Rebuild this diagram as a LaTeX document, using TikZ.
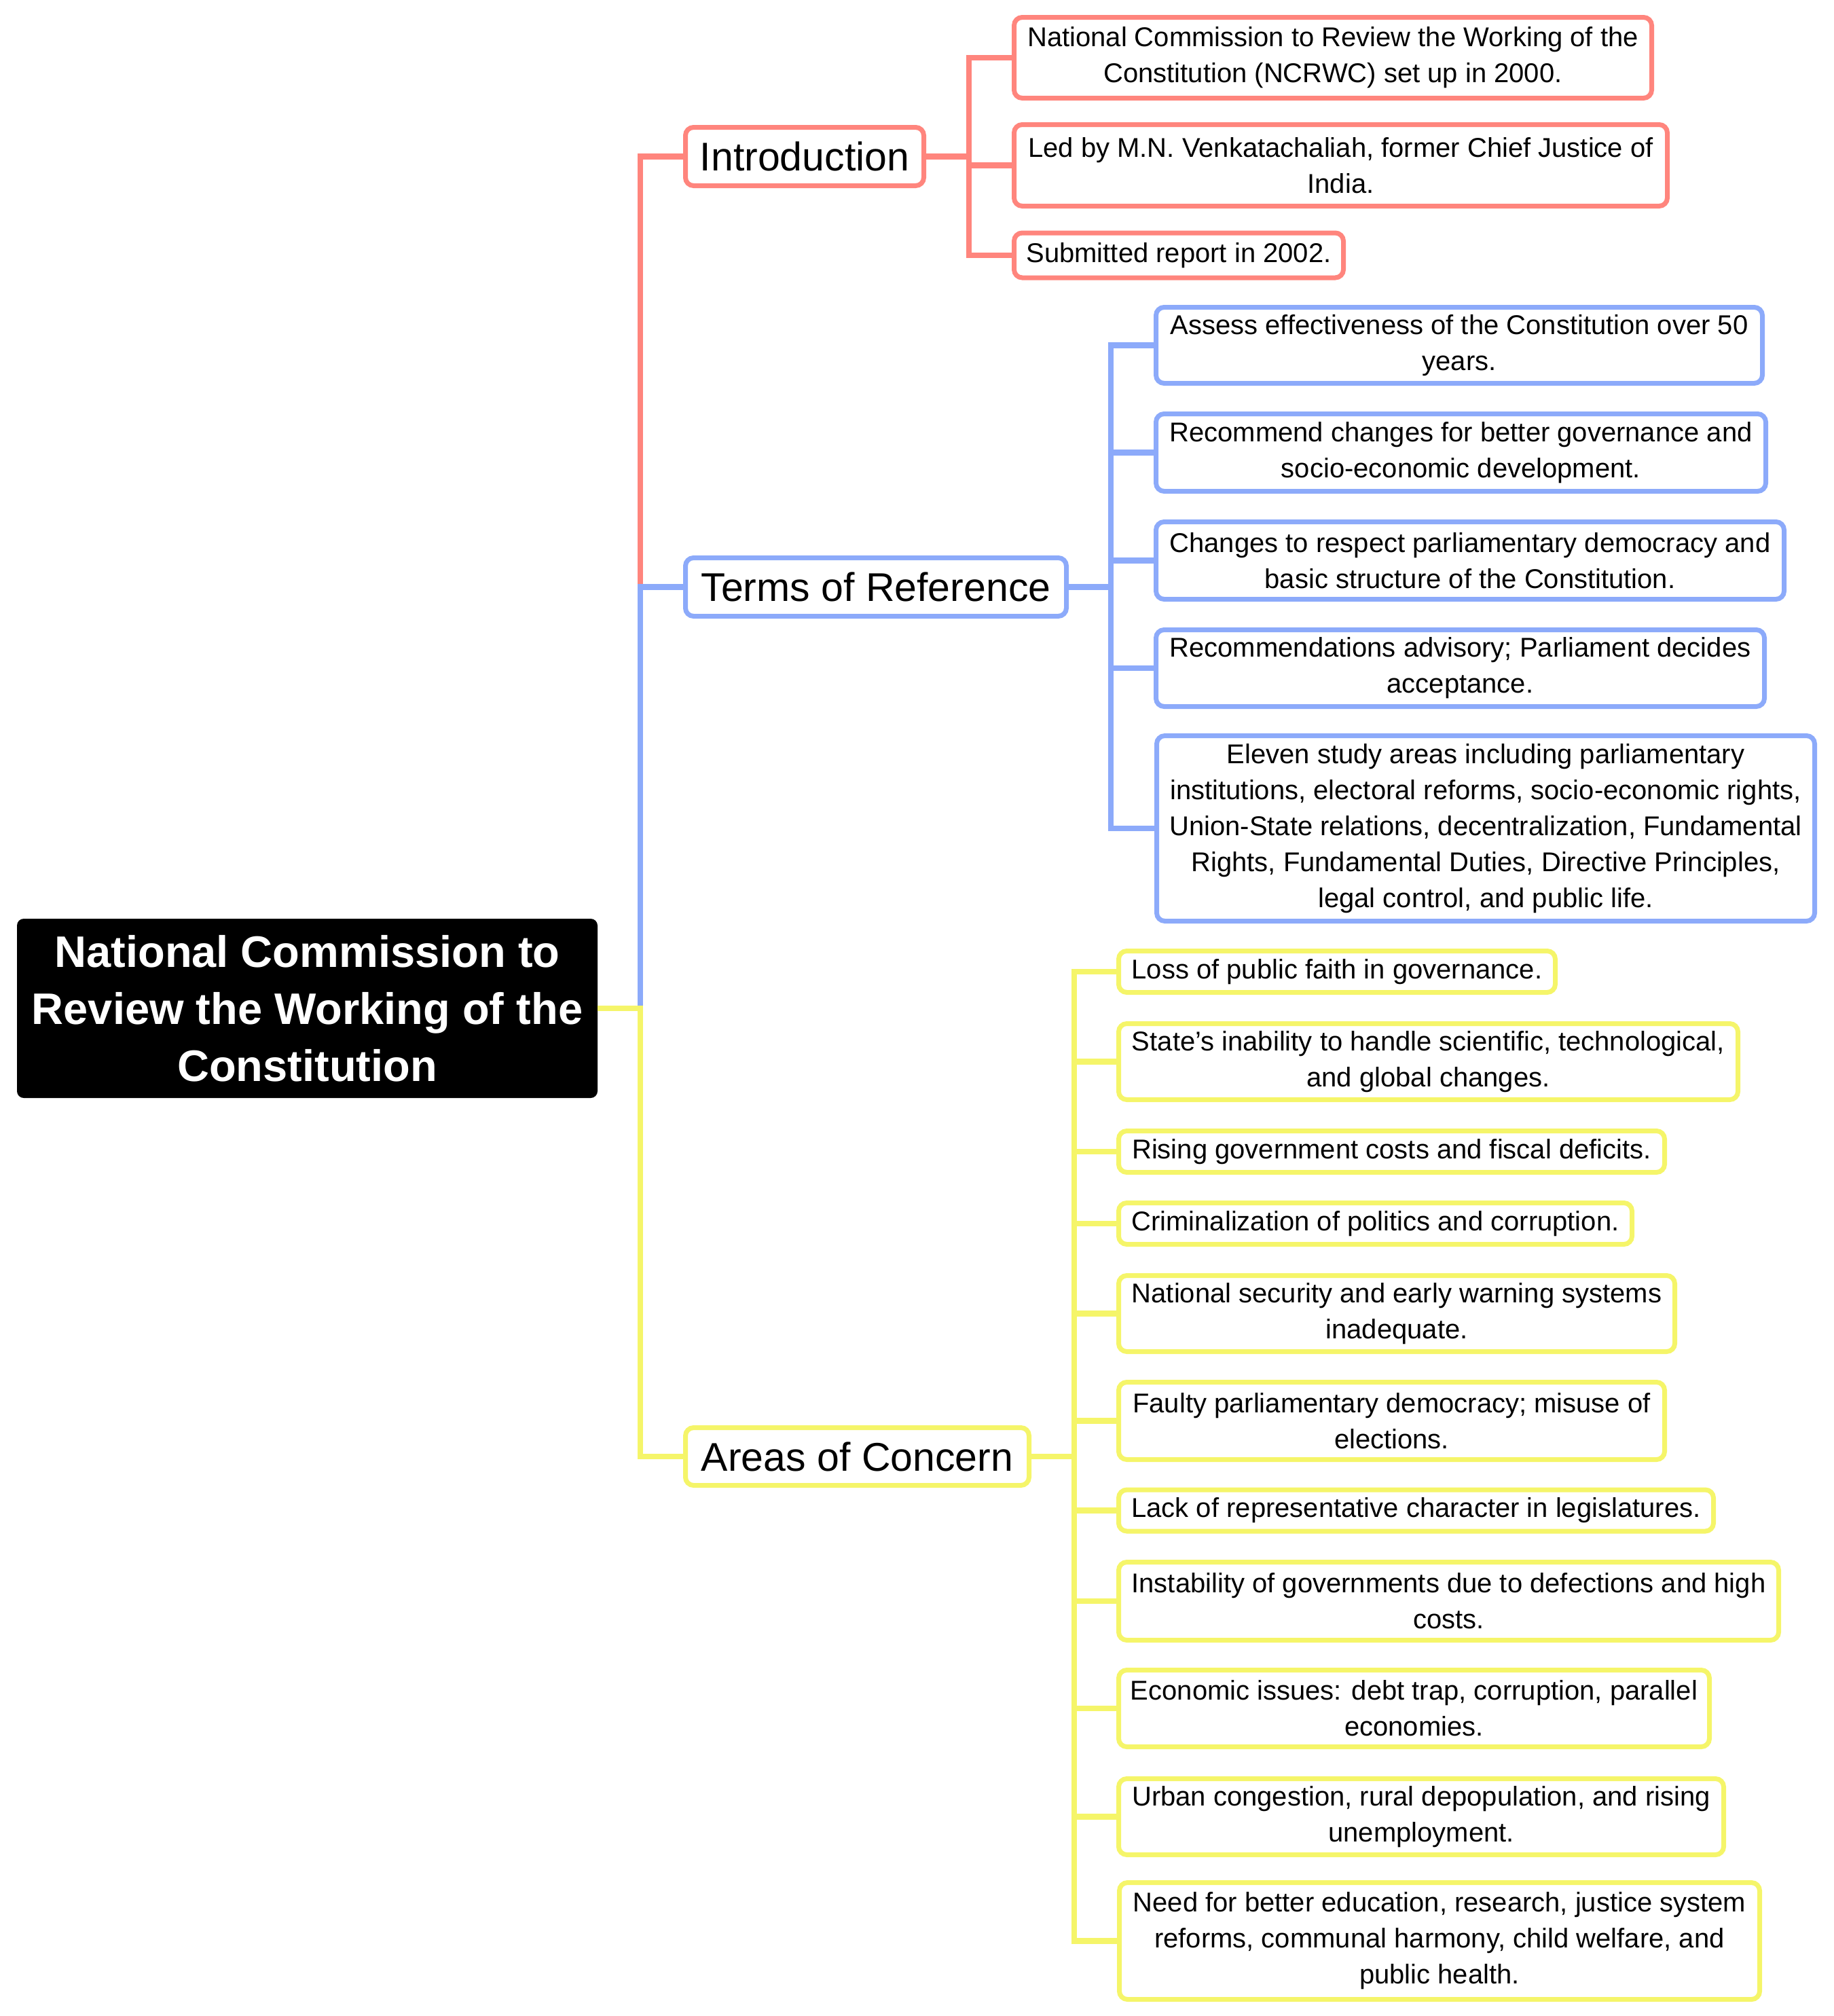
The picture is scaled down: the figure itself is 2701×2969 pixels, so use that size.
\documentclass[tikz,border=0pt]{standalone}
\usepackage{fontspec}
\setmainfont{Liberation Sans}
\definecolor{cred}{RGB}{255,133,125}
\definecolor{cblue}{RGB}{140,170,250}
\definecolor{cyel}{RGB}{245,245,105}
\tikzset{
  leafbox/.style={draw, line width=7pt, rounded corners=12pt, fill=white, align=center, inner sep=0pt, text=black, font=\fontsize{40}{53}\selectfont},
  branchbox/.style={leafbox, font=\fontsize{59}{70}\selectfont},
  rootbox/.style={fill=black, text=white, rounded corners=10pt, align=center, inner sep=0pt, font=\bfseries\fontsize{65}{84}\selectfont},
  conn/.style={line width=8.5pt},
}
\begin{document}
\begin{tikzpicture}[x=1pt,y=-1pt]
\useasboundingbox (0,0) rectangle (2701,2969);
% root
\node[rootbox, minimum width=855pt, minimum height=264pt] (root) at (452.5,1485) {National Commission to\\Review the Working of the\\Constitution};
% branches
\node[branchbox, draw=cred, minimum width=351pt, minimum height=86pt] (intro) at (1185,230.5) {Introduction};
\node[branchbox, draw=cblue, minimum width=561pt, minimum height=86pt] (tor) at (1290,864.5) {Terms of Reference};
\node[branchbox, draw=cyel, minimum width=506pt, minimum height=85pt] (aoc) at (1262.5,2145) {Areas of Concern};
% intro leaves
\node[leafbox, draw=cred, minimum width=939pt, minimum height=119pt] (i1) at (1963,85) {National Commission to Review the Working of the\\Constitution (NCRWC) set up in 2000.};
\node[leafbox, draw=cred, minimum width=962pt, minimum height=120pt] (i2) at (1974.5,243.5) {Led by M.N. Venkatachaliah, former Chief Justice of\\India.};
\node[leafbox, draw=cred, minimum width=485pt, minimum height=66pt] (i3) at (1736,376) {Submitted report in 2002.};
% tor leaves
\node[leafbox, draw=cblue, minimum width=893pt, minimum height=112pt] (t1) at (2149,508.5) {Assess effectiveness of the Constitution over 50\\years.};
\node[leafbox, draw=cblue, minimum width=898pt, minimum height=114pt] (t2) at (2151.5,666.5) {Recommend changes for better governance and\\socio-economic development.};
\node[leafbox, draw=cblue, minimum width=925pt, minimum height=114pt] (t3) at (2165,825.5) {Changes to respect parliamentary democracy and\\basic structure of the Constitution.};
\node[leafbox, draw=cblue, minimum width=896pt, minimum height=113pt] (t4) at (2150.5,984) {Recommendations advisory; Parliament decides\\acceptance.};
\node[leafbox, draw=cblue, minimum width=969pt, minimum height=273pt] (t5) at (2188,1220) {Eleven study areas including parliamentary\\institutions, electoral reforms, socio-economic rights,\\Union-State relations, decentralization, Fundamental\\Rights, Fundamental Duties, Directive Principles,\\legal control, and public life.};
% aoc leaves
\node[leafbox, draw=cyel, minimum width=643pt, minimum height=61pt] (a1) at (1969,1431) {Loss of public faith in governance.};
\node[leafbox, draw=cyel, minimum width=912pt, minimum height=112pt] (a2) at (2103.5,1563.5) {State’s inability to handle scientific, technological,\\and global changes.};
\node[leafbox, draw=cyel, minimum width=804pt, minimum height=61pt] (a3) at (2049.5,1696) {Rising government costs and fiscal deficits.};
\node[leafbox, draw=cyel, minimum width=756pt, minimum height=61pt] (a4) at (2025.5,1802) {Criminalization of politics and corruption.};
\node[leafbox, draw=cyel, minimum width=819pt, minimum height=112pt] (a5) at (2057,1934.5) {National security and early warning systems\\inadequate.};
\node[leafbox, draw=cyel, minimum width=804pt, minimum height=114pt] (a6) at (2049.5,2092.5) {Faulty parliamentary democracy; misuse of\\elections.};
\node[leafbox, draw=cyel, minimum width=876pt, minimum height=61pt] (a7) at (2085.5,2224.5) {Lack of representative character in legislatures.};
\node[leafbox, draw=cyel, minimum width=972pt, minimum height=115pt] (a8) at (2133.5,2358) {Instability of governments due to defections and high\\costs.};
\node[leafbox, draw=cyel, minimum width=870pt, minimum height=113pt] (a9) at (2082.5,2516) {Economic issues: debt trap, corruption, parallel\\economies.};
\node[leafbox, draw=cyel, minimum width=891pt, minimum height=112pt] (a10) at (2093,2675.5) {Urban congestion, rural depopulation, and rising\\unemployment.};
\node[leafbox, draw=cyel, minimum width=943pt, minimum height=172pt] (a11) at (2120,2858.5) {Need for better education, research, justice system\\reforms, communal harmony, child welfare, and\\public health.};
% bracket coordinates
\coordinate (tr) at (943,1485);
\coordinate (ib) at (1427,230.5);
\coordinate (tb) at (1636,864.5);
\coordinate (ab) at (1582,2145);
% main connectors
\draw[conn, cred] (root.east) -- (tr) |- (intro.west);
\draw[conn, cblue] (root.east) -- (tr) |- (tor.west);
\draw[conn, cyel] (root.east) -- (tr) |- (aoc.west);
% leaf connectors
\foreach \n in {i1,i2,i3} \draw[conn, cred] (intro.east) -- (ib) |- (\n.west);
\foreach \n in {t1,t2,t3,t4,t5} \draw[conn, cblue] (tor.east) -- (tb) |- (\n.west);
\foreach \n in {a1,a2,a3,a4,a5,a6,a7,a8,a9,a10,a11} \draw[conn, cyel] (aoc.east) -- (ab) |- (\n.west);
\end{tikzpicture}
\end{document}
